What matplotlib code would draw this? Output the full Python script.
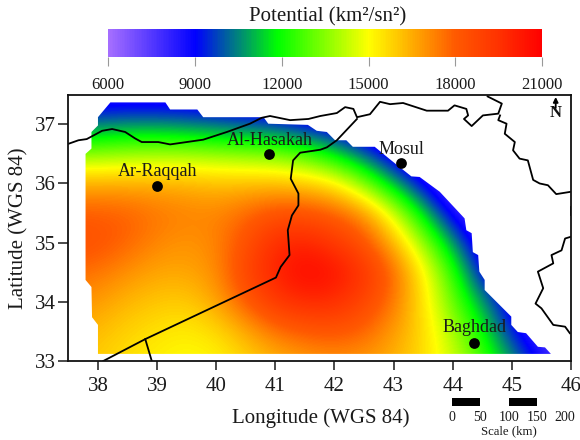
import numpy as np
import matplotlib
matplotlib.use('Agg')
import matplotlib.pyplot as plt
from matplotlib.colors import LinearSegmentedColormap, Normalize
from matplotlib.patches import Polygon
from matplotlib.cm import ScalarMappable

plt.rcParams['font.family'] = ['Liberation Serif', 'DejaVu Serif']

grid_lons = [37.5, 38, 38.5, 39, 39.5, 40, 40.5, 41, 41.5, 42, 42.5, 43, 43.5, 44, 44.5, 45, 45.5, 46]
grid_lats = [33.0, 33.5, 34.0, 34.5, 35.0, 35.5, 36.0, 36.5, 37.0, 37.5]
pot_330 = [16000, 15900, 15500, 15200, 15000, 15100, 15700, 16300, 16700, 16900, 16800, 16400, 15600, 14500, 12800, 10900, 8800, 7000]
pot_335 = [16500, 16200, 15800, 15500, 15300, 15600, 16500, 17500, 18000, 18200, 17800, 16800, 15700, 14000, 12000, 9300, 7500, 7000]
pot_340 = [17000, 16800, 16300, 16000, 15900, 16600, 18000, 19300, 19800, 19700, 18800, 17500, 15500, 13200, 10800, 8500, 7000, 7000]
pot_345 = [17700, 17500, 17000, 16600, 16600, 17000, 18800, 20000, 20800, 20500, 19500, 17800, 15300, 12500, 9000, 7500, 7000, 7000]
pot_350 = [18400, 18300, 17800, 17200, 16900, 17200, 18300, 19700, 20000, 19300, 18300, 16400, 13800, 10800, 8000, 7000, 7000, 7000]
pot_355 = [18000, 18000, 17900, 17500, 17300, 17200, 17700, 18300, 18300, 17900, 17000, 14600, 11500, 8500, 7000, 7000, 7000, 7000]
pot_360 = [16500, 16500, 16500, 16500, 16400, 16200, 16200, 16200, 16000, 15400, 13500, 11000, 8800, 7000, 7000, 7000, 7000, 7000]
pot_365 = [13400, 13500, 13700, 13800, 13800, 13700, 13500, 13300, 12700, 11500, 10000, 8300, 7000, 7000, 7000, 7000, 7000, 7000]
pot_370 = [10200, 10300, 10500, 10500, 10300, 10000, 9800, 9500, 9000, 8300, 7500, 7000, 7000, 7000, 7000, 7000, 7000, 7000]
pot_375 = [8000, 8000, 8000, 8000, 8000, 8000, 7800, 7500, 7000, 7000, 7000, 7000, 7000, 7000, 7000, 7000, 7000, 7000]

outline_lon = [37.79, 37.89, 37.89, 38.0, 38.0, 38.21, 39.14, 39.22, 39.68, 39.78, 40.8, 40.88, 41.55, 41.7, 41.87, 42.01, 42.2, 42.31, 42.68, 42.96, 43.3, 43.44, 43.78, 44.2, 44.23, 44.32, 44.34, 44.43, 44.45, 44.54, 44.54, 44.99, 44.99, 45.1, 45.24, 45.44, 45.56, 45.66, 38.0, 38.0, 37.9, 37.89, 37.79]
outline_lat = [36.5, 36.59, 36.87, 36.98, 37.12, 37.37, 37.37, 37.25, 37.25, 37.12, 37.12, 37.01, 36.99, 36.89, 36.87, 36.73, 36.73, 36.62, 36.62, 36.39, 36.12, 36.11, 35.86, 35.41, 35.21, 35.16, 34.84, 34.79, 34.51, 34.37, 34.2, 33.75, 33.61, 33.49, 33.47, 33.24, 33.23, 33.12, 33.12, 33.61, 33.74, 34.25, 34.37]

north_lon = [37.5, 37.67, 37.81, 38.07, 38.24, 38.46, 38.63, 38.74, 39.02, 39.22, 39.78, 40.18, 40.57, 40.77, 40.91, 41.25, 41.56, 41.76, 42.04, 42.18, 42.32, 42.38, 42.6, 42.77, 42.94, 43.16, 43.56, 43.92, 44.03, 44.23, 44.26, 44.19, 44.32, 44.51, 44.77, 44.83, 44.59]
north_lat = [36.67, 36.73, 36.75, 36.89, 36.92, 36.87, 36.76, 36.70, 36.70, 36.66, 36.74, 36.87, 37.01, 37.11, 37.14, 37.07, 37.09, 37.14, 37.19, 37.29, 37.26, 37.12, 37.17, 37.38, 37.34, 37.36, 37.23, 37.23, 37.32, 37.26, 37.15, 37.09, 36.97, 37.15, 37.18, 37.35, 37.47]
iran_lon = [44.8, 44.77, 44.91, 44.88, 45.05, 45.02, 45.13, 45.27, 45.36, 45.47, 45.61, 45.75, 46.0]
iran_lat = [37.15, 37.07, 37.01, 36.84, 36.7, 36.56, 36.42, 36.39, 36.06, 36.0, 35.97, 35.82, 35.86]
iran2_lon = [46.0, 45.9, 45.84, 45.67, 45.7, 45.44, 45.53, 45.4, 45.5, 45.7, 45.9, 45.98]
iran2_lat = [35.1, 35.07, 34.87, 34.79, 34.65, 34.51, 34.23, 33.97, 33.89, 33.61, 33.58, 33.47]
iran3_lon = [46.0, 46.0]
iran3_lat = [35.6, 35.47]
syria_lon = [42.38, 42.04, 41.87, 41.76, 41.42, 41.3, 41.26, 41.39, 41.39, 41.28, 41.21, 41.24, 41.09, 41.01, 38.8, 38.09]
syria_lat = [37.09, 36.73, 36.61, 36.57, 36.52, 36.39, 36.08, 35.83, 35.63, 35.46, 35.21, 34.79, 34.59, 34.41, 33.37, 33.0]
jordan_lon = [38.8, 38.91]
jordan_lat = [33.37, 33.0]

cities = ['Ar-Raqqah', 'Al-Hasakah', 'Mosul', 'Baghdad']
city_lon = [39.0, 40.9, 43.13, 44.36]
city_lat = [35.96, 36.5, 36.34, 33.31]
city_offset_lat = [0.25, 0.23, 0.24, 0.25]

cbar_ticks = [6000, 9000, 12000, 15000, 18000, 21000]
x_ticks = [38, 39, 40, 41, 42, 43, 44, 45, 46]
y_ticks = [33, 34, 35, 36, 37]
scale_km = [0, 50, 100, 150, 200]

cmap = LinearSegmentedColormap.from_list('pot', [
    (0.0, (165/255, 110/255, 1.0)),
    (0.2, (0, 0, 1)),
    (0.39, (0, 1, 0)),
    (0.6, (1, 1, 0)),
    (0.8, (1, 90/255, 0)),
    (0.9, (1, 50/255, 0)),
    (1.0, (1, 0, 0)),
])
norm = Normalize(6000, 21000)
W, H = 580, 440
fig = plt.figure(figsize=(W/100, H/100), dpi=100)
TC = '#1a1a1a'


def rect(l, t, r, b):
    return [l/W, 1-b/H, (r-l)/W, (b-t)/H]


ax = fig.add_axes(rect(68.4, 94.7, 571, 361))
field = np.array([pot_330, pot_335, pot_340, pot_345, pot_350, pot_355, pot_360, pot_365, pot_370, pot_375], float)
im = ax.imshow(field, origin='lower', cmap=cmap, norm=norm, aspect='auto',
               interpolation='bicubic', interpolation_stage='data',
               extent=[grid_lons[0]-0.25, grid_lons[-1]+0.25, grid_lats[0]-0.25, grid_lats[-1]+0.25])
clip = Polygon(np.column_stack([outline_lon, outline_lat]), closed=True, transform=ax.transData)
im.set_clip_path(clip)
for lo, la in [(north_lon, north_lat), (iran_lon, iran_lat), (iran2_lon, iran2_lat),
               (iran3_lon, iran3_lat), (syria_lon, syria_lat), (jordan_lon, jordan_lat)]:
    ax.plot(lo, la, color='black', lw=1.3, solid_joinstyle='round', clip_on=True)
ax.scatter(city_lon, city_lat, s=60, color='black', zorder=5, linewidths=0)
for n, lo, la, d in zip(cities, city_lon, city_lat, city_offset_lat):
    ax.text(lo, la+d, n, ha='center', va='center', fontsize=13, color=TC, zorder=6)
ax.set_xlim(37.5, 46)
ax.set_ylim(33, 37.5)
ax.set_xticks(x_ticks)
ax.set_yticks(y_ticks)
ax.tick_params(labelsize=15, width=1.1, colors=TC)
ax.tick_params(axis='x', length=6.5, pad=5)
ax.tick_params(axis='y', length=7.2, pad=2)
for s in ax.spines.values():
    s.set_linewidth(1.3)
    s.set_color('#111111')
fig.text(320.5/W, 1-418.5/H, 'Longitude (WGS 84)', ha='center', va='center', fontsize=15, color=TC)
fig.text(19/W, 1-228/H, 'Latitude (WGS 84)', ha='center', va='center', rotation=90, fontsize=15, color=TC)

# North arrow
ax.annotate('', xy=(555.7/W, 1-97/H), xytext=(555.7/W, 1-108/H), xycoords='figure fraction',
            textcoords='figure fraction', arrowprops=dict(arrowstyle='-|>', color='black', lw=1.3, mutation_scale=7, shrinkA=0, shrinkB=0))
fig.text(555.7/W, 1-112.7/H, 'N', ha='center', va='center', fontsize=12, fontweight='bold', color='#111111')

# Colour bar
cax = fig.add_axes(rect(108.3, 29.3, 542.3, 57))
cb = fig.colorbar(ScalarMappable(norm=norm, cmap=cmap), cax=cax, orientation='horizontal', ticks=cbar_ticks)
cb.outline.set_visible(False)
cb.ax.tick_params(labelsize=12, length=6.5, width=0.8, color='#999999', labelcolor=TC, pad=8)
fig.text(328/W, 1-16.5/H, 'Potential (km²/sn²)', ha='center', va='center', fontsize=15, color=TC)

# Scale bar
sax = fig.add_axes(rect(452.3, 398.3, 565, 405.7))
sax.set_xlim(scale_km[0], scale_km[-1])
sax.set_ylim(0, 1)
for a, b, c in zip(scale_km[:-1], scale_km[1:], ['black', 'white', 'black', 'white']):
    sax.barh(0.5, b-a, left=a, height=1, color=c, linewidth=0)
sax.set_xticks(scale_km)
sax.set_yticks([])
sax.tick_params(length=0, labelsize=10, labelcolor=TC, pad=4)
for s in sax.spines.values():
    s.set_visible(False)
sax.set_facecolor('none')
fig.text(508.5/W, 1-431/H, 'Scale (km)', ha='center', va='center', fontsize=9.2, color=TC)

fig.savefig('out.png', dpi=100)
